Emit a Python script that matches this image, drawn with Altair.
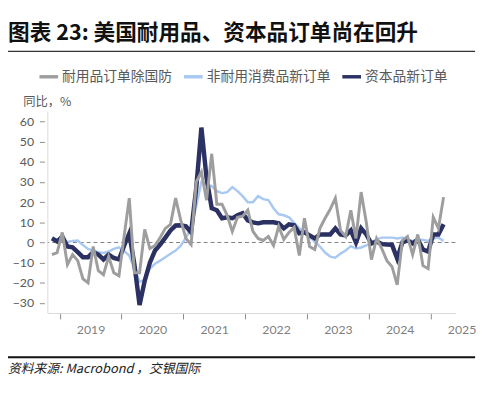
import altair as alt
import pandas as pd

# ---- data (YoY %, monthly, Nov 2018 - Mar 2025) ----
start_year, start_month, n_months = 2018, 11, 77

durable_ex_defense = [
    -6, -5,
    5, -11, -6, -9, -18, -20, -2, -14, -16, -7, -15, -16.5,
    3, 22, -15, -15, 6.5, -3, -1.5, 2.5, 7, 9, 22, 11,
    2, -1, 30, 35, 21, 44, 19, 19, 13.5, 5.5, 12.5, 13,
    16, 5.5, 2, 1, 3, -1.5, 8, 1.5, 5, 7.5, -6.5, 12,
    -2, -3.5, 7, 12, 16.5, 22, 6, 3, 16, 2, 25, 10,
    -8.5, 2, -3, -9, -12, -21, 1, 3, -6, 4, -11.5, -13,
    12.5, 7, 22.5,
]
nondurable_consumer = [
    2.5, 1.3,
    0.8, 0.3, 0.8, 1, -1.3, -3.2, -4, -4.8, -5.2, -4.5, -3.2, -2.4,
    -4.2, -6.5, -13, -19.5, -18.5, -13, -10.5, -9, -7.3, -5.6, -4, -1.6,
    2.4, 7.3, 18, 30, 29, 28, 25.5, 24.5, 25, 27.5, 25.5, 23,
    20, 20, 23, 21.5, 21, 17, 14, 13.5, 12.5, 9.7, 7, 5,
    2.5, 0.5, -2, -5, -7, -7.5, -5.5, -4, -1.8, -3, -2.5, -1.5,
    0, 1.6, 2.4, 2.4, 2.4, 2, 2.4, 1.3, 0.8, 1.6, 1.3, 0.8,
    2, 2.4, 0.8,
]
capital_goods = [
    2, 0.5,
    3, -2, -2.4, -4.8, -7.3, -7.3, -4.8, -6, -8.4, -6, -7.7, -8.4,
    -1.6, 4.5, -11, -31, -19, -10, -4, -1, 2.4, 6, 8.4, 8.5,
    8, 5, 27, 57, 32, 17, 16, 12, 12.5, 12, 13.5, 14.5,
    11, 10, 9.5, 10, 10, 10, 9.5, 7, 9, 8.5, 4.5, 5,
    3.5, 2, 4, 4, 4, 7, 4, 3.5, 6, 0, 7, 4,
    -0.5, 0.5, -0.8, -1, -1.2, -8, 0, 1, -0.5, 1.5, -3.5, -4.5,
    4, 4, 9,
]

series_names = ["耐用品订单除国防", "非耐用消费品新订单", "资本品新订单"]
series_colors = ["#9e9e9e", "#a9c9f2", "#2b3162"]
year_ticks = [2019, 2020, 2021, 2022, 2023, 2024, 2025]
y_ticks = [-30, -20, -10, 0, 10, 20, 30, 40, 50, 60]

title_text = "图表 23: 美国耐用品、资本品订单尚在回升"
source_text = "资料来源: Macrobond ，交银国际"
y_title = "同比，%"

# ---- build tables ----
t_vals = []
y, m = start_year, start_month
for _ in range(n_months):
    t_vals.append(y + (m - 0.5) / 12.0)
    m += 1
    if m > 12:
        m = 1
        y += 1


def frame(name, values):
    return pd.DataFrame({"t": t_vals, "v": values, "series": name})


df_gray = frame(series_names[0], durable_ex_defense)
df_blue = frame(series_names[1], nondurable_consumer)
df_navy = frame(series_names[2], capital_goods)

CJK = "Noto Sans CJK SC"
NUM = "Lato"
W, H = 415, 205

x_enc = alt.X(
    "t:Q",
    scale=alt.Scale(domain=[2018.8, 2025.4], nice=False, zero=False),
    axis=alt.Axis(
        values=year_ticks, format="d", title=None, grid=False,
        labelOffset=31.4, labelFlush=False, labelOverlap=False,
        tickSize=6, tickColor="#8c8c8c", domainColor="#d9d9d9",
        labelPadding=5, labelFont=NUM, labelFontSize=12.5, labelColor="#7f7f7f",
    ),
)
y_enc = alt.Y(
    "v:Q",
    scale=alt.Scale(domain=[-35, 65], nice=False, zero=False),
    axis=alt.Axis(
        values=y_ticks, grid=False, domain=False, offset=3,
        tickSize=5, tickColor="#8c8c8c", labelPadding=6,
        labelOverlap=False, labelFlush=False,
        labelFont=NUM, labelFontSize=12.5, labelColor="#595959",
        title=y_title, titleAngle=0, titleX=-22, titleY=-10,
        titleAlign="left", titleBaseline="middle", titleFont=CJK,
        titleFontSize=12.5, titleFontWeight="normal", titleColor="#595959",
    ),
)
color_enc = alt.Color(
    "series:N",
    scale=alt.Scale(domain=series_names, range=series_colors),
    legend=alt.Legend(
        title=None, orient="none", legendX=-10, legendY=-47,
        direction="horizontal", symbolType="stroke", symbolSize=361,
        symbolStrokeWidth=3.5, labelFont=CJK, labelFontSize=14,
        labelColor="#595959", labelOffset=2, columnPadding=5,
        labelLimit=300,
    ),
)


def line(df, width):
    return alt.Chart(df).mark_line(strokeWidth=width).encode(
        x=x_enc, y=y_enc, color=color_enc
    )


zero = alt.Chart(pd.DataFrame({"v": [0]})).mark_rule(
    color="#808080", strokeDash=[4, 3], strokeWidth=1
).encode(y=y_enc)

left_border = alt.Chart(pd.DataFrame({"a": [0]})).mark_rule(
    color="#d9d9d9", strokeWidth=1
).encode(x=alt.value(0.5), y=alt.value(0), y2=alt.value(H))

title = alt.Chart(pd.DataFrame({"s": [title_text]})).mark_text(
    align="left", baseline="middle", font=CJK, fontSize=22,
    fontWeight="bold", color="#111111"
).encode(text="s:N", x=alt.value(-40), y=alt.value(-80))

top_line = alt.Chart(pd.DataFrame({"a": [0]})).mark_rule(
    color="#333333", strokeWidth=1.3
).encode(x=alt.value(-41), x2=alt.value(435), y=alt.value(-61))

bottom_line = alt.Chart(pd.DataFrame({"a": [0]})).mark_rule(
    color="#111111", strokeWidth=2
).encode(x=alt.value(-41), x2=alt.value(435), y=alt.value(250))

source = alt.Chart(pd.DataFrame({"s": [source_text]})).mark_text(
    align="left", baseline="middle", font=CJK, fontSize=13,
    fontStyle="italic", color="#222222"
).encode(text="s:N", x=alt.value(-40), y=alt.value(262))

chart = alt.layer(
    zero,
    left_border,
    line(df_blue, 2.5),
    line(df_navy, 4.5),
    line(df_gray, 3),
    title,
    top_line,
    bottom_line,
    source,
).properties(
    width=W, height=H,
    padding={"left": 40, "top": 102, "right": 25, "bottom": 71},
    autosize=alt.AutoSizeParams(type="none"),
).configure_view(strokeWidth=0)

chart.save("out.html", embed_options={"renderer": "svg", "actions": False})
